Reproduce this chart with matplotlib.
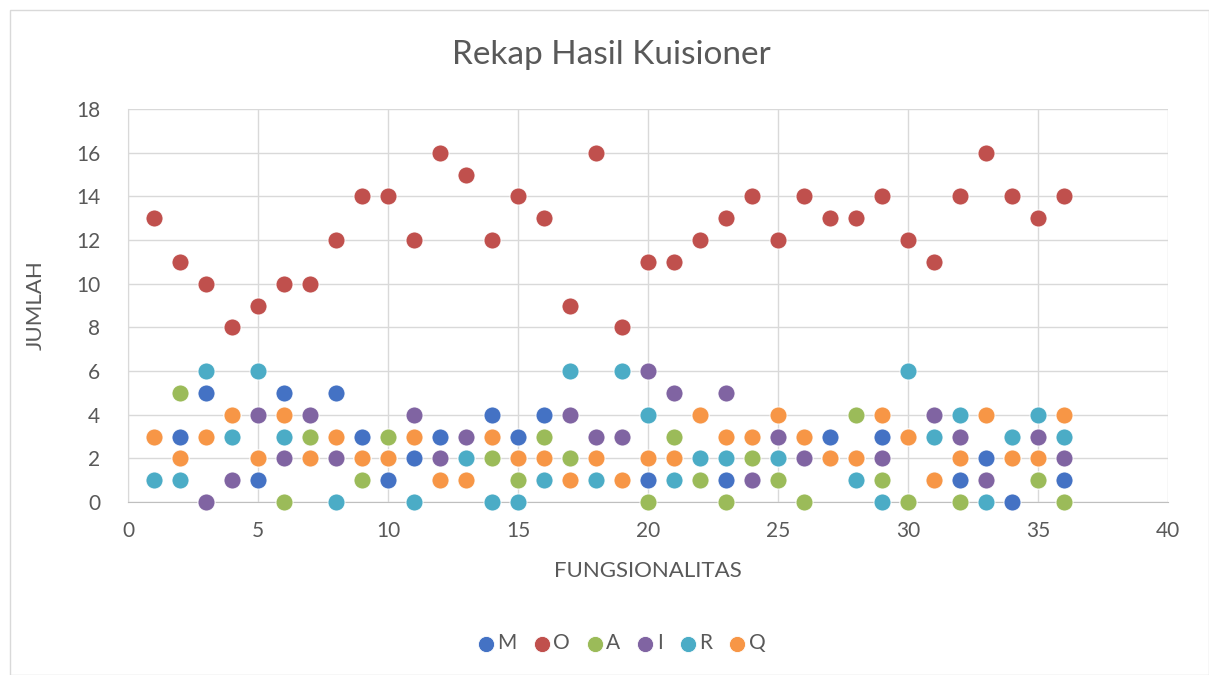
import numpy as np
from matplotlib import pyplot as plt
from matplotlib.patches import Rectangle

plt.rcParams['font.family'] = ['Lato', 'DejaVu Sans']

x = np.arange(1, 37)
M = [1, 3, 5, 4, 1, 5, 3, 5, 3, 1, 2, 3, 2, 4, 3, 4, 2, 1, 3, 1, 2, 1, 1, 1, 2, 2, 3, 2, 3, 0, 1, 1, 2, 0, 1, 1]
O = [13, 11, 10, 8, 9, 10, 10, 12, 14, 14, 12, 16, 15, 12, 14, 13, 9, 16, 8, 11, 11, 12, 13, 14, 12, 14, 13, 13, 14, 12, 11, 14, 16, 14, 13, 14]
A = [3, 5, 0, 4, 2, 0, 3, 2, 1, 3, 3, 1, 1, 2, 1, 3, 2, 1, 3, 0, 3, 1, 0, 2, 1, 0, 2, 4, 1, 0, 4, 0, 1, 2, 1, 0]
I = [3, 2, 0, 1, 4, 2, 4, 2, 2, 2, 4, 2, 3, 3, 2, 1, 4, 3, 3, 6, 5, 4, 5, 1, 3, 2, 2, 2, 2, 3, 4, 3, 1, 3, 3, 2]
R = [1, 1, 6, 3, 6, 3, 2, 0, 2, 2, 0, 1, 2, 0, 0, 1, 6, 1, 6, 4, 1, 2, 2, 3, 2, 3, 2, 1, 0, 6, 3, 4, 0, 3, 4, 3]
Q = [3, 2, 3, 4, 2, 4, 2, 3, 2, 2, 3, 1, 1, 3, 2, 2, 1, 2, 1, 2, 2, 4, 3, 3, 4, 3, 2, 2, 4, 3, 1, 2, 4, 2, 2, 4]

series = [('M', M, '#4472C4'), ('O', O, '#C0504D'), ('A', A, '#9BBB59'),
          ('I', I, '#8064A2'), ('R', R, '#4BACC6'), ('Q', Q, '#F79646')]

fig = plt.figure(figsize=(12.09, 6.75), dpi=100)
fig.patches.append(Rectangle((10/1209, 0), 1 - 10/1209, 1 - 10/675, transform=fig.transFigure,
                             fill=False, edgecolor='#D9D9D9', lw=1))
ax = fig.add_axes([128/1209, 1 - 502/675, 1040/1209, 393/675])

for name, vals, col in series:
    ax.scatter(x, vals, s=150, color=col, edgecolors='white', linewidths=0.6,
               label=name, zorder=3, clip_on=False)

ax.set_xlim(0, 40)
ax.set_ylim(0, 18)
ax.set_xticks(range(0, 41, 5))
ax.set_yticks(range(0, 19, 2))
ax.grid(True, color='#D9D9D9', lw=1)
ax.set_axisbelow(True)
for s in ['top', 'right']:
    ax.spines[s].set_visible(False)
ax.spines['left'].set_color('#D9D9D9')
ax.spines['bottom'].set_color('#BFBFBF')
ax.tick_params(axis='both', length=0, labelsize=15, colors='#595959')
ax.tick_params(axis='x', pad=14)
ax.tick_params(axis='y', pad=20)

fig.text(611/1209, 1 - 55/675, 'Rekap Hasil Kuisioner', fontsize=24, color='#595959',
         ha='center', va='center')
ax.set_xlabel('FUNGSIONALITAS', fontsize=16, color='#595959', labelpad=14)
ax.set_ylabel('JUMLAH', fontsize=16, color='#595959', labelpad=22)

ax.legend(loc='center', bbox_to_anchor=((622 - 128)/1040, -(643 - 502)/393), ncol=6,
          frameon=False, fontsize=15, labelcolor='#595959', handlelength=0.7,
          handletextpad=0.2, columnspacing=0.85, markerscale=0.95)

fig.savefig('out.png', dpi=100)
